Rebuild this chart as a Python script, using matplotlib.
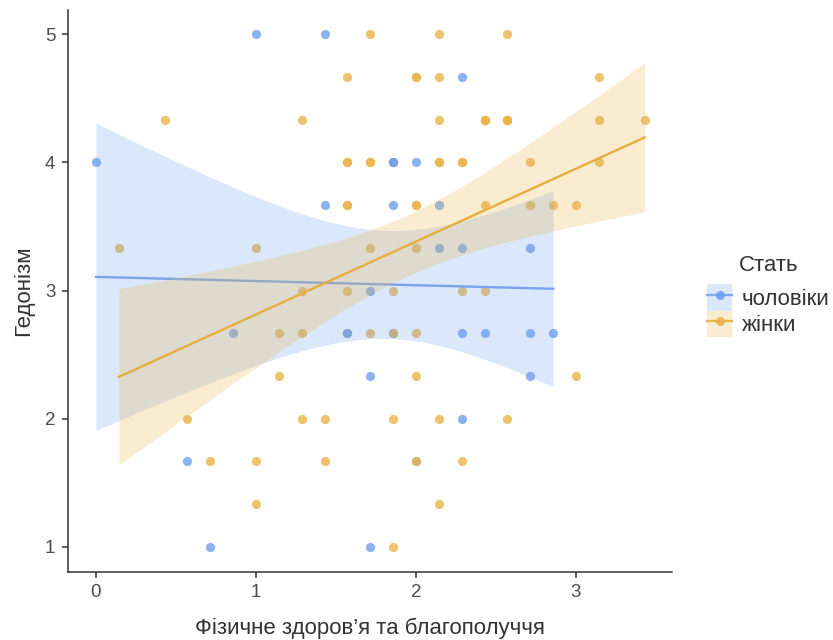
import math
import numpy as np
import matplotlib
matplotlib.use("Agg")
import matplotlib.pyplot as plt
from matplotlib.patches import Patch
from matplotlib.lines import Line2D

# ---------------- data ----------------
x_label = "Фізичне здоров’я та благополуччя"
y_label = "Гедонізм"
legend_title = "Стать"
group_names = ["чоловіки", "жінки"]
x_ticks = [0, 1, 2, 3]
y_ticks = [1, 2, 3, 4, 5]

men_x = [1.0, 1.429, 2.286, 0.0, 1.857, 1.857, 2.0, 1.429, 1.857, 2.143, 2.143, 2.286, 2.714,
         1.714, 0.857, 1.571, 1.857, 2.286, 2.429, 2.714, 2.857, 1.714, 2.714, 2.286,
         0.571, 2.0, 0.714, 1.714]
men_y = [5.0, 5.0, 4.667, 4.0, 4.0, 4.0, 4.0, 3.667, 3.667, 3.667, 3.333, 3.333, 3.333,
         3.0, 2.667, 2.667, 2.667, 2.667, 2.667, 2.667, 2.667, 2.333, 2.333, 2.0,
         1.667, 1.667, 1.0, 1.0]

women_x = [1.714, 2.143, 2.571,
           1.571, 2.0, 2.0, 2.143, 3.143,
           0.429, 1.286, 2.143, 2.429, 2.429, 2.429, 2.571, 2.571, 2.571, 3.143, 3.429,
           1.571, 1.571, 1.714, 1.714, 1.857, 2.143, 2.143, 2.286, 2.286, 2.714, 3.143,
           1.571, 1.571, 2.0, 2.0, 2.429, 2.714, 2.857, 3.0,
           0.143, 1.0, 1.714, 2.0,
           1.286, 1.571, 1.857, 2.286, 2.429,
           1.143, 1.286, 1.571, 1.714, 2.0,
           1.143, 2.0, 3.0,
           0.571, 1.286, 1.429, 1.857, 2.143, 2.571,
           0.714, 1.0, 1.429, 2.286,
           1.0, 2.143,
           1.857]
women_y = [5.0, 5.0, 5.0,
           4.667, 4.667, 4.667, 4.667, 4.667,
           4.333, 4.333, 4.333, 4.333, 4.333, 4.333, 4.333, 4.333, 4.333, 4.333, 4.333,
           4.0, 4.0, 4.0, 4.0, 4.0, 4.0, 4.0, 4.0, 4.0, 4.0, 4.0,
           3.667, 3.667, 3.667, 3.667, 3.667, 3.667, 3.667, 3.667,
           3.333, 3.333, 3.333, 3.333,
           3.0, 3.0, 3.0, 3.0, 3.0,
           2.667, 2.667, 2.667, 2.667, 2.667,
           2.333, 2.333, 2.333,
           2.0, 2.0, 2.0, 2.0, 2.0, 2.0,
           1.667, 1.667, 1.667, 1.667,
           1.333, 1.333,
           1.0]
# women's points that sit on top of men's points
women_top_x = [1.857, 2.0]
women_top_y = [2.667, 1.667]

# ---------------- style ----------------
men_color = "#70A0ED"
women_color = "#EAB44A"
men_line = "#78A4EE"
women_line = "#E8AD3F"
point_alpha = 0.8
band_alpha = 0.25


def t_quantile(p, df):
    # inverse Student-t CDF by numeric integration + bisection
    c = math.exp(math.lgamma((df + 1) / 2) - math.lgamma(df / 2)) / math.sqrt(df * math.pi)

    def cdf(t):
        g = np.linspace(0, t, 4001)
        f = c * (1 + g ** 2 / df) ** (-(df + 1) / 2)
        return 0.5 + np.trapezoid(f, g)

    lo, hi = 0.0, 10.0
    for _ in range(60):
        mid = (lo + hi) / 2
        if cdf(mid) < p:
            lo = mid
        else:
            hi = mid
    return (lo + hi) / 2


def lm_fit(x, y, n_grid=80):
    x = np.asarray(x, float)
    y = np.asarray(y, float)
    n = len(x)
    slope, intercept = np.polyfit(x, y, 1)
    resid = y - (intercept + slope * x)
    s = math.sqrt(np.sum(resid ** 2) / (n - 2))
    xm = x.mean()
    sxx = np.sum((x - xm) ** 2)
    grid = np.linspace(x.min(), x.max(), n_grid)
    fit = intercept + slope * grid
    se = s * np.sqrt(1.0 / n + (grid - xm) ** 2 / sxx)
    tq = t_quantile(0.975, n - 2)
    return grid, fit, fit - tq * se, fit + tq * se


plt.rcParams['font.family'] = ['Liberation Sans', 'DejaVu Sans']

fig = plt.figure(figsize=(8.33, 6.4), dpi=100)
ax = fig.add_axes([0.0816, 0.1063, 0.8067 - 0.0816, 0.984 - 0.1063])

# points (women, then men, then women on top)
ax.scatter(women_x, women_y, s=44, color=women_color, alpha=point_alpha, linewidths=0, zorder=2)
ax.scatter(men_x, men_y, s=44, color=men_color, alpha=point_alpha, linewidths=0, zorder=2)
ax.scatter(women_top_x, women_top_y, s=44, color=women_color, alpha=point_alpha, linewidths=0, zorder=2)

# smooths
mg, mf, ml, mu = lm_fit(men_x, men_y)
wg, wf, wl, wu = lm_fit(women_x + women_top_x, women_y + women_top_y)
ax.fill_between(mg, ml, mu, color=men_color, alpha=band_alpha, linewidth=0, zorder=3)
ax.plot(mg, mf, color=men_line, lw=1.7, zorder=4)
ax.fill_between(wg, wl, wu, color=women_color, alpha=band_alpha, linewidth=0, zorder=5)
ax.plot(wg, wf, color=women_line, lw=1.7, zorder=6)

ax.set_xlim(-0.175, 3.60)
ax.set_ylim(0.805, 5.187)
ax.set_xticks(x_ticks)
ax.set_yticks(y_ticks)

for side in ["top", "right"]:
    ax.spines[side].set_visible(False)
for side in ["left", "bottom"]:
    ax.spines[side].set_color("#333333")
    ax.spines[side].set_linewidth(1.1)
ax.tick_params(axis="both", length=4, width=1.1, color="#333333",
               labelcolor="#4D4D4D", labelsize=13.5, pad=5)

ax.set_xlabel(x_label, fontsize=16, color="#333333", labelpad=12)
ax.set_ylabel(y_label, fontsize=16, color="#333333", labelpad=8)

handles = [
    (Patch(facecolor=men_color, alpha=band_alpha, edgecolor="none"),
     Line2D([], [], color=men_line, lw=1.7, marker="o", markersize=6.5,
            markerfacecolor=men_color, markeredgewidth=0, alpha=0.9)),
    (Patch(facecolor=women_color, alpha=band_alpha, edgecolor="none"),
     Line2D([], [], color=women_line, lw=1.7, marker="o", markersize=6.5,
            markerfacecolor=women_color, markeredgewidth=0, alpha=0.9)),
]
leg = fig.legend(handles, group_names, title=legend_title, loc="upper left",
                 bbox_to_anchor=(707 / 833, 1 - 255 / 640), frameon=False,
                 fontsize=16, title_fontsize=16, handlelength=1.13,
                 handleheight=1.45, labelspacing=0.0, handletextpad=0.45,
                 borderpad=0.0, borderaxespad=0.0)
leg._legend_box.sep = 6
leg.get_title().set_color("#333333")
for t in leg.get_texts():
    t.set_color("#333333")

fig.savefig("out.png", dpi=100)
